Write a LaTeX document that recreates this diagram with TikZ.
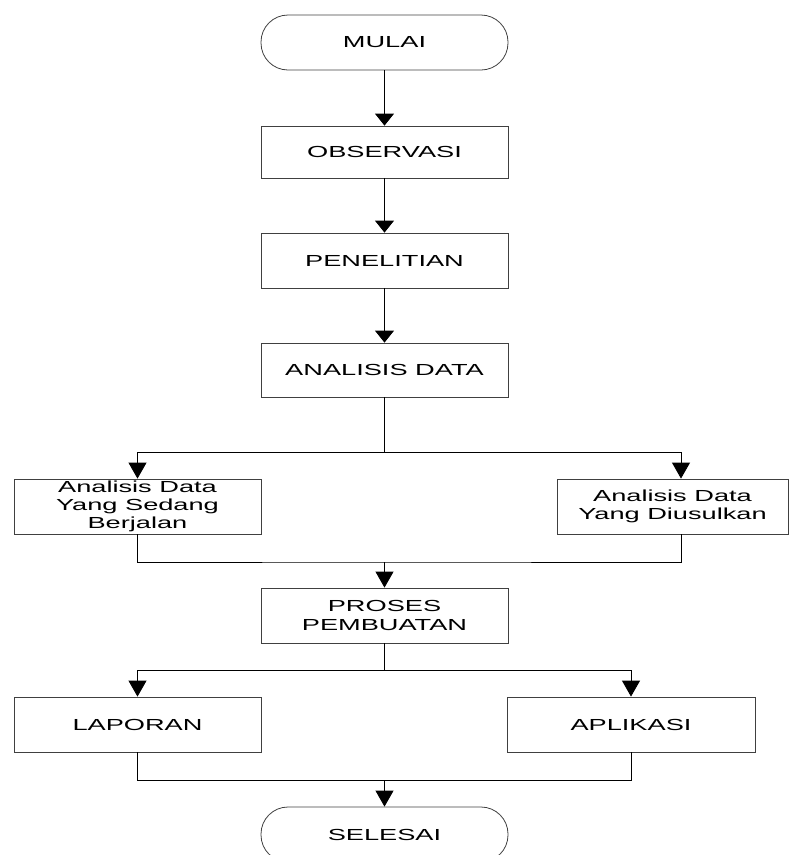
\documentclass[tikz,border=0pt]{standalone}
\usepackage{fontspec}
\setmainfont{Liberation Sans}[FakeStretch=1.7]
\usetikzlibrary{arrows.meta}

\begin{document}
\begin{tikzpicture}[x=1pt, y=-1pt,
    kotak/.style={draw=black!75, line width=0.8pt, minimum width=247pt, minimum height=55pt,
                  inner sep=0pt, align=center, font=\fontsize{16}{18.3}\selectfont},
    terminal/.style={kotak, rounded corners=27pt},
    garis/.style={line width=0.9pt},
    panah/.style={garis, -{Triangle[width=19pt, length=12pt]}},
    panahcabang/.style={garis, -{Triangle[width=18pt, length=16pt]}}]
    \useasboundingbox (0,0) rectangle (791,855);

    % Mulai dan tahap awal
    \node[terminal] (mulai) at (384.5,42.5) {MULAI};
    \node[kotak, minimum height=52pt] (obs) at (384.5,152) {OBSERVASI};
    \node[kotak] (pen) at (384.5,260.5) {PENELITIAN};
    \node[kotak, minimum height=54pt] (anl) at (384.5,370) {ANALISIS DATA};

    \draw[panah] (mulai) -- (obs);
    \draw[panah] (obs) -- (pen);
    \draw[panah] (pen) -- (anl);

    % Cabang analisis
    \node[kotak] (kiri) at (137.5,506.5) {Analisis Data\\Yang Sedang\\Berjalan};
    \node[kotak, minimum width=231pt] (kanan) at (672.5,506.5) {Analisis Data\\Yang Diusulkan};
    \coordinate (pisah1) at (384.5,452);
    \coordinate (kananatas) at ([xshift=8.5pt]kanan.north);
    \coordinate (kananbawah) at ([xshift=8.5pt]kanan.south);

    \draw[garis] (anl) -- (pisah1);
    \draw[panahcabang] (pisah1) -| (kiri);
    \draw[panahcabang] (pisah1) -| (kananatas);

    % Proses pembuatan
    \node[kotak] (proses) at (384.5,615.5) {PROSES\\PEMBUATAN};
    \coordinate (gabung1) at (384.5,562);

    \draw[garis] (kiri) |- (gabung1) -| (kananbawah);
    \draw[panahcabang] (gabung1) -- (proses);

    % Laporan dan aplikasi
    \node[kotak] (lap) at (137.5,724.5) {LAPORAN};
    \node[kotak, minimum width=248pt] (apl) at (631,724.5) {APLIKASI};
    \coordinate (pisah2) at (384.5,670);

    \draw[garis] (proses) -- (pisah2);
    \draw[panahcabang] (pisah2) -| (lap);
    \draw[panahcabang] (pisah2) -| (apl);

    % Selesai
    \node[terminal] (selesai) at (384.5,834.5) {SELESAI};
    \coordinate (gabung2) at (384.5,780);

    \draw[garis] (lap) |- (gabung2) -| (apl);
    \draw[panahcabang] (gabung2) -- (selesai);
\end{tikzpicture}
\end{document}
